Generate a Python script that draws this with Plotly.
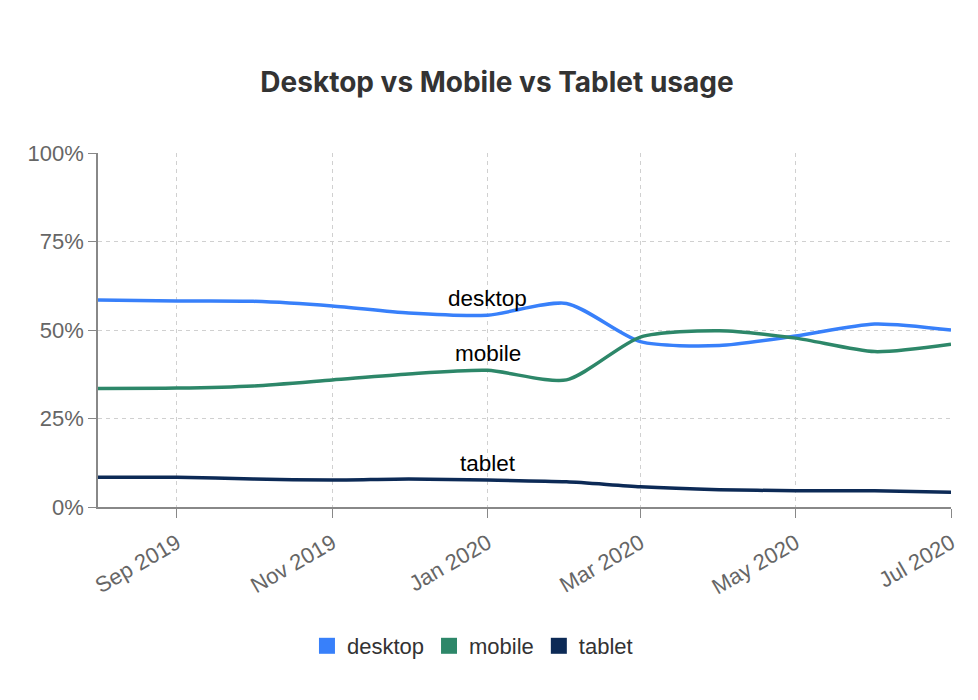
import plotly.graph_objects as go

months = ["2019-08-01", "2019-09-01", "2019-10-01", "2019-11-01", "2019-12-01", "2020-01-01",
          "2020-02-01", "2020-03-01", "2020-04-01", "2020-05-01", "2020-06-01", "2020-07-01"]
desktop = [58.5, 58.2, 58.1, 56.8, 54.8, 54.2, 57.5, 46.7, 45.6, 48.3, 51.7, 50.0]
mobile = [33.5, 33.6, 34.2, 35.9, 37.6, 38.6, 35.9, 48.0, 49.8, 47.7, 43.9, 46.0]
tablet = [8.4, 8.4, 7.9, 7.6, 7.9, 7.6, 7.1, 5.7, 4.9, 4.6, 4.6, 4.2]

series = [("desktop", desktop, "#3880fa"), ("mobile", mobile, "#2d8769"), ("tablet", tablet, "#0c2a56")]

tick_vals = ["2019-09-01", "2019-11-01", "2020-01-01", "2020-03-01", "2020-05-01", "2020-07-01"]
tick_text = ["Sep 2019", "Nov 2019", "Jan 2020", "Mar 2020", "May 2020", "Jul 2020"]
y_ticks = [0, 25, 50, 75, 100]
y_text = ["0%", "25%", "50%", "75%", "100%"]
label_month = "2020-01-01"

fig = go.Figure()
for name, vals, color in series:
    fig.add_trace(go.Scatter(x=months, y=vals, mode="lines", name=name,
                             line=dict(color=color, width=3.5, shape="spline", smoothing=0.7),
                             showlegend=False, hoverinfo="skip"))
for name, vals, color in series:
    fig.add_trace(go.Scatter(x=[None], y=[None], mode="markers", name=name,
                             marker=dict(symbol="square", size=18, color=color)))
    idx = months.index(label_month)
    fig.add_annotation(x=label_month, y=vals[idx], text=name, showarrow=False,
                       yshift=17, font=dict(size=22.5, color="#000", family="Liberation Sans"))

grid = dict(showgrid=True, gridcolor="#d0d0d0", griddash="4px,4px", gridwidth=1)
fig.update_layout(
    width=978, height=700,
    paper_bgcolor="white", plot_bgcolor="white",
    margin=dict(l=90, r=35, t=145, b=201),
    title=dict(text="<b>Desktop vs Mobile vs Tablet usage</b>", x=0.5, xanchor="center",
               y=1 - 74 / 700, yanchor="middle",
               font=dict(family="Inter", size=28, color="#333")),
    font=dict(family="Liberation Sans", color="#666", size=22),
    xaxis=dict(range=[months[0], months[-1]], tickvals=tick_vals, ticktext=tick_text,
               tickangle=-30, ticks="outside", ticklen=9, tickcolor="#888",
               showline=True, linecolor="#888", linewidth=1.5, ticklabelstandoff=4,
               tickfont=dict(size=22, color="#666"), zeroline=False, **grid),
    yaxis=dict(range=[0, 100], tickvals=y_ticks, ticktext=y_text,
               ticks="outside", ticklen=8, tickcolor="#888",
               showline=True, linecolor="#888", linewidth=1.5,
               tickfont=dict(size=22, color="#666"), zeroline=False, **grid),
    legend=dict(orientation="h", xref="paper", x=0.439, xanchor="center",
                y=-(646 - 507) / 354, yanchor="middle",
                font=dict(size=22, color="#333"), itemwidth=30),
    hovermode=False,
)
fig.write_html("out.html")
